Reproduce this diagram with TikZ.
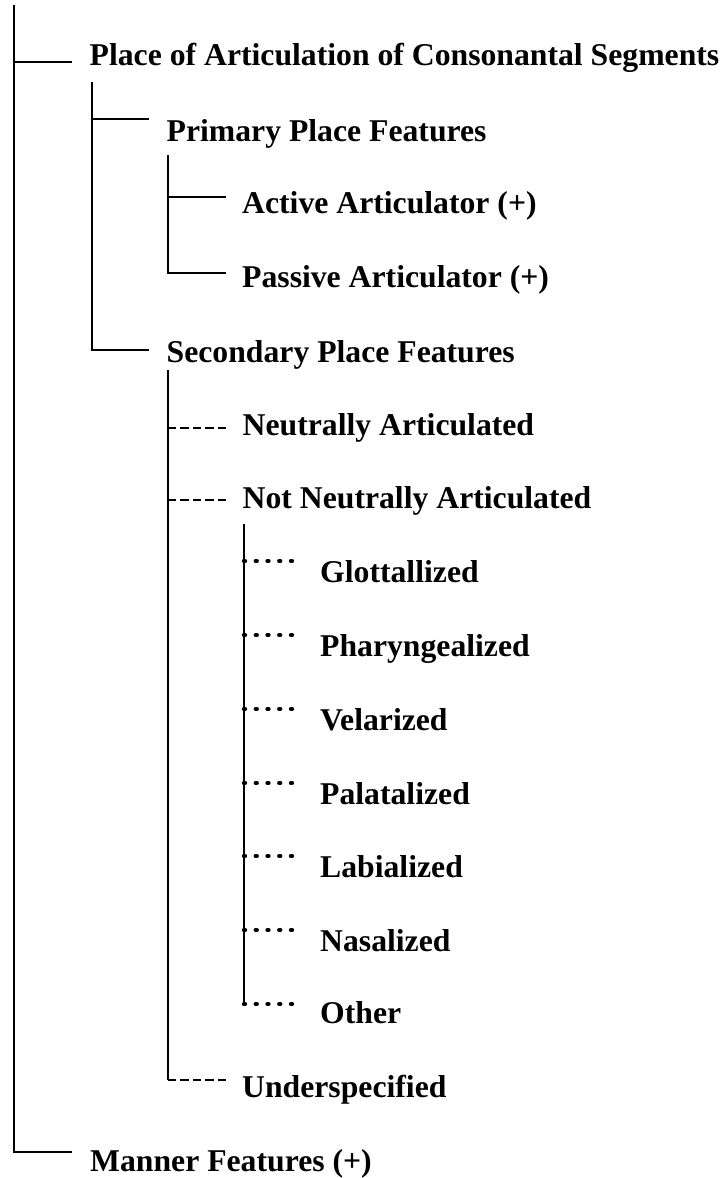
\documentclass[tikz,border=0pt]{standalone}
\usepackage{fontspec}
\setmainfont{Liberation Serif}
\begin{document}
\begin{tikzpicture}[x=1pt,y=-1pt,
  lbl/.style={anchor=base west, inner sep=0pt, font=\fontsize{31.7}{36}\selectfont\bfseries},
  solidline/.style={line width=2pt},
  dashline/.style={line width=2pt, dash pattern=on 8.5pt off 4pt},
  dotline/.style={line width=4.4pt, line cap=round, dash pattern=on 1pt off 10.75pt}]
\useasboundingbox (0,0) rectangle (725,1178);

% labels
\node[lbl] (place)      at (89.5,65.7)  {Place of Articulation of Consonantal Segments};
\node[lbl] (primary)    at (166.5,141.7) {Primary Place Features};
\node[lbl] (active)     at (242,213.3)  {Active Articulator (+)};
\node[lbl] (passive)    at (242,287.3)  {Passive Articulator (+)};
\node[lbl] (secondary)  at (166.5,362.3) {Secondary Place Features};
\node[lbl] (neutral)    at (242.5,435)  {Neutrally Articulated};
\node[lbl] (notneutral) at (242.5,508)  {Not Neutrally Articulated};
\node[lbl] (glott)      at (320,582.5)  {Glottallized};
\node[lbl] (pharyn)     at (320,656.5)  {Pharyngealized};
\node[lbl] (velar)      at (320,730.5)  {Velarized};
\node[lbl] (palatal)    at (320,804)    {Palatalized};
\node[lbl] (labial)     at (320,877.5)  {Labialized};
\node[lbl] (nasal)      at (320,951)    {Nasalized};
\node[lbl] (other)      at (320,1023.5) {Other};
\node[lbl] (under)      at (242,1097.3) {Underspecified};
\node[lbl] (manner)     at (90,1171)    {Manner Features (+)};

% trunk tops and branch ends
\coordinate (rootTop)  at (14,5);
\coordinate (placeEnd) at (72,62);
\coordinate (mannerEnd) at (72,1152);

\coordinate (placeTop) at (91.5,82);
\coordinate (primaryEnd) at (149,119.3);
\coordinate (secondaryEnd) at (149,350);

\coordinate (primaryTop) at (168,155);
\coordinate (activeEnd) at (226,197);
\coordinate (passiveEnd) at (226,273);

\coordinate (secondaryTop) at (167.5,370);
\coordinate (neutralEnd) at (226,428.3);
\coordinate (notneutralEnd) at (226,500);
\coordinate (underEnd) at (226,1080);

\coordinate (notneutralTop) at (244,524);
\coordinate (glottEnd) at (292,561);
\coordinate (pharynEnd) at (292,635);
\coordinate (velarEnd) at (292,709);
\coordinate (palatalEnd) at (292,783);
\coordinate (labialEnd) at (292,856);
\coordinate (nasalEnd) at (292,930);
\coordinate (otherEnd) at (292,1004);

% level 0
\draw[solidline] (rootTop) |- (mannerEnd);
\draw[solidline] (rootTop |- placeEnd) -- (placeEnd);

% level 1
\draw[solidline] (placeTop) |- (secondaryEnd);
\draw[solidline] (placeTop |- primaryEnd) -- (primaryEnd);

% level 2, primary
\draw[solidline] (primaryTop) |- (passiveEnd);
\draw[solidline] (primaryTop |- activeEnd) -- (activeEnd);

% level 2, secondary
\draw[solidline] (secondaryTop) -- (secondaryTop |- underEnd);
\foreach \e in {neutralEnd, notneutralEnd, underEnd}
  \draw[dashline] (secondaryTop |- \e) -- (\e);

% level 3
\draw[solidline] (notneutralTop) -- (notneutralTop |- otherEnd);
\foreach \e in {glottEnd, pharynEnd, velarEnd, palatalEnd, labialEnd, nasalEnd, otherEnd}
  \draw[dotline] (notneutralTop |- \e) -- (\e);
\end{tikzpicture}
\end{document}
